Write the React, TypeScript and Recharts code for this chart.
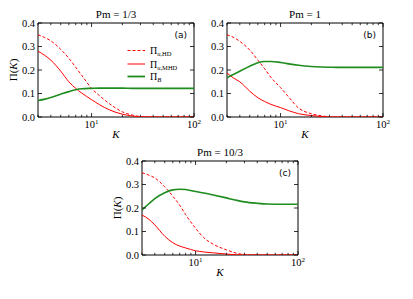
import { LineChart, Line, XAxis, YAxis, ReferenceArea } from "recharts";

// wavenumbers shared by all three panels
const K = [3, 3.5, 4, 5, 6, 7, 8, 10, 12, 15, 20, 25, 30, 40, 50, 70, 100];

// Pm = 1/3
const A_HD = [0.35, 0.338, 0.324, 0.288, 0.25, 0.212, 0.178, 0.122, 0.09, 0.056, 0.022, 0.008, 0.002, 0, 0, 0, 0];
const A_MHD = [0.28, 0.262, 0.242, 0.195, 0.15, 0.122, 0.102, 0.074, 0.052, 0.03, 0.012, 0.004, 0.001, 0, 0, 0, 0];
const A_B = [0.07, 0.076, 0.083, 0.097, 0.108, 0.116, 0.12, 0.122, 0.123, 0.123, 0.123, 0.122, 0.122, 0.122, 0.122, 0.122, 0.122];

// Pm = 1
const B_HD = [0.35, 0.338, 0.322, 0.285, 0.242, 0.205, 0.17, 0.125, 0.085, 0.038, 0.014, 0.005, 0.001, 0, 0, 0, 0];
const B_MHD = [0.187, 0.165, 0.15, 0.11, 0.082, 0.066, 0.054, 0.04, 0.027, 0.014, 0.006, 0.002, 0, 0, 0, 0, 0];
const B_B = [0.168, 0.182, 0.195, 0.216, 0.231, 0.236, 0.236, 0.232, 0.226, 0.22, 0.215, 0.213, 0.212, 0.211, 0.211, 0.211, 0.211];

// Pm = 10/3
const C_HD = [0.35, 0.34, 0.328, 0.29, 0.25, 0.212, 0.172, 0.114, 0.074, 0.045, 0.022, 0.008, 0.002, 0, 0, 0, 0];
const C_MHD = [0.17, 0.152, 0.128, 0.08, 0.052, 0.038, 0.03, 0.018, 0.013, 0.009, 0.004, 0.001, 0, 0, 0, 0, 0];
const C_B = [0.192, 0.218, 0.24, 0.265, 0.277, 0.28, 0.279, 0.27, 0.264, 0.255, 0.243, 0.233, 0.226, 0.22, 0.217, 0.216, 0.216];

const X_TICKS = [3, 4, 5, 6, 7, 8, 9, 10, 20, 30, 40, 50, 60, 70, 80, 90, 100];
const X_MAJOR = [10, 100];
const Y_TICKS = [0, 0.1, 0.2, 0.3, 0.4];

const PW = 156;
const PH = 94;
const YW = 36;
const MT = 20;
const RED = "#ff0000";
const GREEN = "#1f8c1f";
const SERIF = "'Liberation Serif', 'DejaVu Serif', serif";

const rows = (hd: number[], mhd: number[], b: number[]) =>
  K.map((k, i) => ({ k, hd: hd[i], mhd: mhd[i], b: b[i] }));

const XTick = (props: any) => {
  const { x, y, payload } = props;
  const major = X_MAJOR.includes(payload.value);
  const len = major ? 4 : 2.2;
  return (
    <g>
      <line x1={x} y1={y} x2={x} y2={y - len} stroke="#000" strokeWidth={0.8} />
      <line x1={x} y1={y - PH} x2={x} y2={y - PH + len} stroke="#000" strokeWidth={0.8} />
      {major && (
        <text x={x} y={y + 11} textAnchor="middle" fontFamily={SERIF} fontSize={10.5} fill="#000">
          10
          <tspan dy={-4} fontSize={7}>
            {payload.value === 10 ? "1" : "2"}
          </tspan>
        </text>
      )}
    </g>
  );
};

const YTick = (props: any) => {
  const { x, y, payload } = props;
  return (
    <g>
      <line x1={x} y1={y} x2={x + 4} y2={y} stroke="#000" strokeWidth={0.8} />
      <line x1={x + PW} y1={y} x2={x + PW - 4} y2={y} stroke="#000" strokeWidth={0.8} />
      <text x={x - 3} y={y + 3.5} textAnchor="end" fontFamily={SERIF} fontSize={10.5} fill="#000">
        {payload.value.toFixed(1)}
      </text>
    </g>
  );
};

function Panel({ left, top, data }: { left: number; top: number; data: any[] }) {
  return (
    <div style={{ position: "absolute", left: left - YW, top: top - MT }}>
      <LineChart width={YW + PW + 10} height={MT + PH + 25} data={data} margin={{ top: MT, right: 10, left: 0, bottom: 0 }}>
        <XAxis
          dataKey="k"
          type="number"
          scale="log"
          domain={[3, 100]}
          allowDataOverflow
          ticks={X_TICKS}
          interval={0}
          tickLine={false}
          axisLine={false}
          tickSize={0}
          tickMargin={0}
          height={25}
          tick={XTick}
        />
        <YAxis
          type="number"
          domain={[0, 0.4]}
          allowDataOverflow
          ticks={Y_TICKS}
          interval={0}
          tickLine={false}
          axisLine={false}
          tickSize={0}
          tickMargin={0}
          width={YW}
          tick={YTick}
        />
        <ReferenceArea x1={3} x2={100} y1={0} y2={0.4} fill="none" stroke="#000" strokeWidth={1} fillOpacity={0} />
        <Line dataKey="hd" type="monotone" stroke={RED} strokeWidth={1} strokeDasharray="3 2" dot={false} isAnimationActive={false} />
        <Line dataKey="mhd" type="monotone" stroke={RED} strokeWidth={1} dot={false} isAnimationActive={false} />
        <Line dataKey="b" type="monotone" stroke={GREEN} strokeWidth={1.6} dot={false} isAnimationActive={false} />
      </LineChart>
    </div>
  );
}

const PANELS = [
  { left: 38, top: 23, data: rows(A_HD, A_MHD, A_B), title: "Pm = 1/3", tag: "(a)", ylab: true },
  { left: 227, top: 23, data: rows(B_HD, B_MHD, B_B), title: "Pm = 1", tag: "(b)", ylab: false },
  { left: 142, top: 161, data: rows(C_HD, C_MHD, C_B), title: "Pm = 10/3", tag: "(c)", ylab: true },
];

const LEGEND = [
  { sub: ",HD", u: true, color: RED, dash: "3 2", w: 1 },
  { sub: ",MHD", u: true, color: RED, dash: undefined, w: 1 },
  { sub: "B", u: false, color: GREEN, dash: undefined, w: 1.8 },
];

export default function App() {
  return (
    <div style={{ position: "absolute", left: 0, top: 0, width: 413, height: 299, background: "#fff" }}>
      {PANELS.map((p) => (
        <Panel key={p.tag} left={p.left} top={p.top} data={p.data} />
      ))}
      <svg width={413} height={299} style={{ position: "absolute", left: 0, top: 0, pointerEvents: "none" }}>
        {PANELS.map((p) => (
          <g key={p.tag}>
            <text x={p.left + PW / 2} y={p.top - 5} textAnchor="middle" fontFamily={SERIF} fontSize={11}>
              {p.title}
            </text>
            <text x={p.left + PW - 7} y={p.top + 14.5} textAnchor="end" fontFamily="'DejaVu Sans', sans-serif" fontSize={9}>
              {p.tag}
            </text>
            <text x={p.left + PW / 2} y={p.top + PH + 21} textAnchor="middle" fontFamily={SERIF} fontStyle="italic" fontSize={11}>
              K
            </text>
            {p.ylab && (
              <text
                x={0}
                y={0}
                transform={`translate(${p.left - 21}, ${p.top + PH / 2}) rotate(-90)`}
                textAnchor="middle"
                fontFamily={SERIF}
                fontSize={11}
              >
                Π(<tspan fontStyle="italic">K</tspan>)
              </text>
            )}
          </g>
        ))}
        {LEGEND.map((l, i) => {
          const y = [50.5, 64, 76.5][i];
          return (
            <g key={l.sub}>
              <line x1={127.5} x2={145} y1={y} y2={y} stroke={l.color} strokeWidth={l.w} strokeDasharray={l.dash} />
              <text x={150} y={y + 3.5} fontFamily={SERIF} fontSize={10}>
                Π
                <tspan dy={2} fontSize={6.5}>
                  {l.u ? (
                    <>
                      <tspan fontStyle="italic">u</tspan>
                      {l.sub}
                    </>
                  ) : (
                    <tspan fontStyle="italic">{l.sub}</tspan>
                  )}
                </tspan>
              </text>
            </g>
          );
        })}
      </svg>
    </div>
  );
}
